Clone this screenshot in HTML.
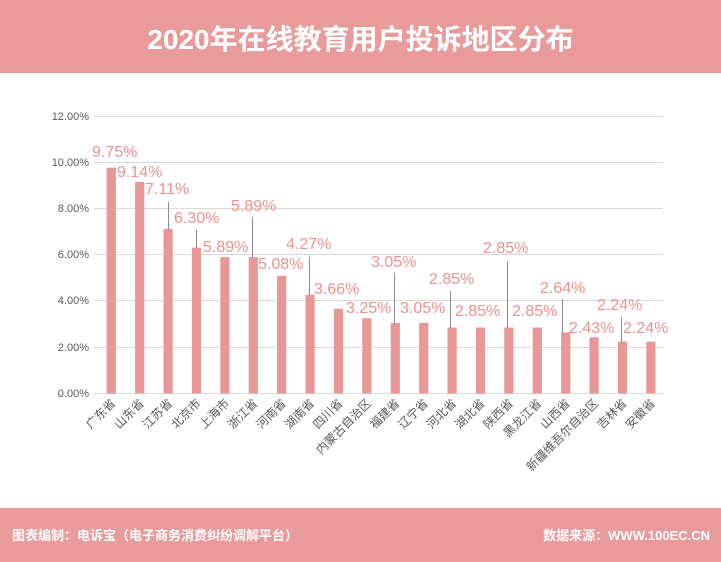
<!DOCTYPE html>
<html><head><meta charset="utf-8"><style>
body{margin:0;background:#fff;}
svg{display:block;font-family:"Liberation Sans","Noto Sans CJK SC",sans-serif;}
</style></head><body>
<svg width="721" height="562" viewBox="0 0 721 562" xmlns="http://www.w3.org/2000/svg">
<rect x="0" y="0" width="721" height="73" fill="#e99a9a"/>
<text x="360.5" y="49" text-anchor="middle" font-size="28" font-weight="bold" fill="#fff">2020年在线教育用户投诉地区分布</text>
<rect x="0" y="508" width="721" height="54" fill="#e99a9a"/>
<text x="12" y="540" font-size="13" font-weight="bold" fill="#fff">图表编制：电诉宝（电子商务消费纠纷调解平台）</text>
<text x="710" y="540" text-anchor="end" font-size="13" font-weight="bold" fill="#fff">数据来源：WWW.100EC.CN</text>
<g stroke="#d9d9d9" stroke-width="1">
<line x1="94" x2="663" y1="116.5" y2="116.5"/>
<line x1="94" x2="663" y1="162.5" y2="162.5"/>
<line x1="94" x2="663" y1="208.5" y2="208.5"/>
<line x1="94" x2="663" y1="254.5" y2="254.5"/>
<line x1="94" x2="663" y1="300.5" y2="300.5"/>
<line x1="94" x2="663" y1="347.5" y2="347.5"/>
<line x1="94" x2="663" y1="393.5" y2="393.5"/>
</g>
<g font-size="11" fill="#595959" text-anchor="end">
<text x="89" y="120">12.00%</text>
<text x="89" y="166">10.00%</text>
<text x="89" y="212">8.00%</text>
<text x="89" y="258">6.00%</text>
<text x="89" y="304">4.00%</text>
<text x="89" y="351">2.00%</text>
<text x="89" y="397">0.00%</text>
</g>
<g fill="#e89696" id="bars"></g>
<g stroke="#8c8c8c" stroke-width="1">
<line x1="168.5" x2="168.5" y1="202" y2="230"/>
<line x1="196.5" x2="196.5" y1="230" y2="248"/>
<line x1="252.5" x2="252.5" y1="217" y2="258"/>
<line x1="309.5" x2="309.5" y1="257" y2="295"/>
<line x1="394.5" x2="394.5" y1="273" y2="323"/>
<line x1="450.5" x2="450.5" y1="291" y2="328"/>
<line x1="507.5" x2="507.5" y1="261" y2="328"/>
<line x1="562.5" x2="562.5" y1="299" y2="333"/>
<line x1="621.5" x2="621.5" y1="317" y2="343"/>
</g>
<g font-size="16" fill="#ef9090">
<text x="92" y="157">9.75%</text>
<text x="117" y="177">9.14%</text>
<text x="145" y="194">7.11%</text>
<text x="174" y="223">6.30%</text>
<text x="203" y="252">5.89%</text>
<text x="231" y="211">5.89%</text>
<text x="258" y="269">5.08%</text>
<text x="286" y="249">4.27%</text>
<text x="314" y="294">3.66%</text>
<text x="346" y="313">3.25%</text>
<text x="371" y="267">3.05%</text>
<text x="400" y="313">3.05%</text>
<text x="429" y="284">2.85%</text>
<text x="455" y="316">2.85%</text>
<text x="483" y="253">2.85%</text>
<text x="512" y="316">2.85%</text>
<text x="540" y="293">2.64%</text>
<text x="569" y="333">2.43%</text>
<text x="597" y="310">2.24%</text>
<text x="623" y="333">2.24%</text>
</g>
<g font-size="12" fill="#595959" text-anchor="end" id="cats"></g>
<script>
var v=[9.75,9.14,7.11,6.30,5.89,5.89,5.08,4.27,3.66,3.25,3.05,3.05,2.85,2.85,2.85,2.85,2.64,2.43,2.24,2.24];
var n=["广东省","山东省","江苏省","北京市","上海市","浙江省","河南省","湖南省","四川省","内蒙古自治区","福建省","辽宁省","河北省","湖北省","陕西省","黑龙江省","山西省","新疆维吾尔自治区","吉林省","安徽省"];
var b=document.getElementById('bars'),c=document.getElementById('cats'),ns="http://www.w3.org/2000/svg";
for(var i=0;i<20;i++){var cx=111.3+i*28.4,h=v[i]*23.15;
var r=document.createElementNS(ns,'rect');r.setAttribute('x',cx-4.6);r.setAttribute('width',9.2);r.setAttribute('y',393.5-h);r.setAttribute('height',h);b.appendChild(r);
var t=document.createElementNS(ns,'text');t.setAttribute('transform','translate('+(cx+5)+',404) rotate(-45)');t.textContent=n[i];c.appendChild(t);}
</script>
</svg>
</body></html>
